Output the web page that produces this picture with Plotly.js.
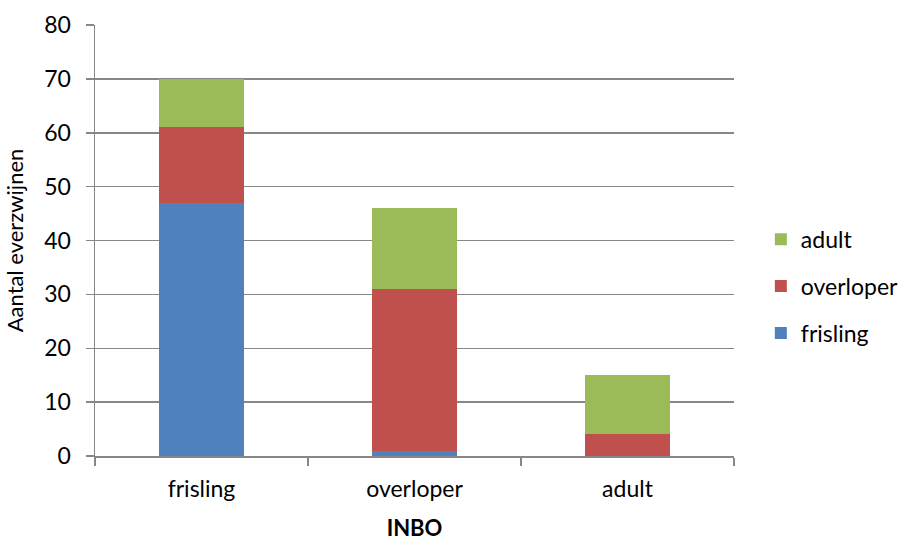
<!DOCTYPE html>
<html>
<head>
<meta charset="utf-8">
<script src="https://cdn.plot.ly/plotly-3.0.1.min.js"></script>
<style>html,body{margin:0;padding:0;background:#fff;}#chart{width:905px;height:541px;}</style>
</head>
<body>
<div id="chart"></div>
<script>
const categories = ["frisling", "overloper", "adult"];
const frisling = [47, 1, 0];
const overloper = [14, 30, 4];
const adult = [9, 15, 11];
const seriesNames = ["frisling", "overloper", "adult"];
const colors = ["#4F81BD", "#C0504D", "#9BBB59"];
const yTicks = [0, 10, 20, 30, 40, 50, 60, 70, 80];

const seriesValues = [frisling, overloper, adult];
const traces = seriesValues.map((vals, i) => ({
  type: "bar",
  name: seriesNames[i],
  legendgroup: seriesNames[i],
  legendrank: 1000 - i,
  x: categories,
  y: vals,
  marker: {color: colors[i], line: {width: 0}},
  hoverinfo: "x+y+name"
}));

const font = "Lato, 'Open Sans', sans-serif";
const fs = 23;
const layout = {
  width: 905, height: 541,
  margin: {l: 95, r: 171, t: 25, b: 85, autoexpand: false},
  barmode: "stack",
  bargap: 0.6,
  paper_bgcolor: "#fff",
  plot_bgcolor: "#fff",
  font: {family: font, size: fs, color: "#000"},
  showlegend: true,
  legend: {
    x: 1.042, y: 0.394, xanchor: "left", yanchor: "middle",
    traceorder: "grouped",
    font: {family: font, size: fs, color: "#000"},
    itemsizing: "constant",
    itemwidth: 30,
    tracegroupgap: 14
  },
  xaxis: {
    type: "category",
    tickson: "boundaries",
    ticks: "outside", ticklen: 8, tickcolor: "#878787", tickwidth: 1.5,
    showline: true, linecolor: "#878787", linewidth: 1.5,
    showgrid: false,
    ticklabelstandoff: 12,
    tickfont: {family: font, size: fs},
    title: {text: "<b>INBO</b>", font: {family: font, size: fs - 1}, standoff: 22}
  },
  yaxis: {
    range: [0, 80],
    tickvals: yTicks,
    ticks: "outside", ticklen: 8, tickcolor: "#878787", tickwidth: 1.5,
    showline: true, linecolor: "#878787", linewidth: 1.5,
    showgrid: true, gridcolor: "#878787", gridwidth: 1.5,
    zeroline: false,
    ticklabelstandoff: 10,
    tickfont: {family: font, size: fs},
    title: {text: "Aantal everzwijnen", font: {family: font, size: fs - 1}, standoff: 14}
  }
};

Plotly.newPlot("chart", traces, layout, {displayModeBar: false, staticPlot: true});
</script>
</body>
</html>
